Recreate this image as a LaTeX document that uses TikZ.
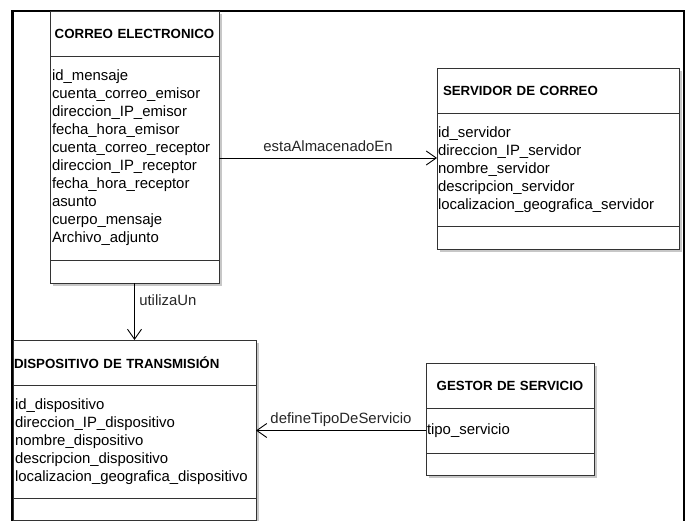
\documentclass[tikz,border=0pt]{standalone}
\usepackage{fontspec}
\setmainfont{Liberation Sans}
\usetikzlibrary{arrows.meta}
\usetikzlibrary{positioning, fit, calc}
\pgfdeclarelayer{background}
\pgfsetlayers{background,main}

\newcommand{\classtitlefont}{\bfseries\fontsize{13.3}{16}\selectfont}
\newcommand{\attrfont}{\fontsize{14.9}{18}\selectfont}

\tikzset{
  classbox/.style={draw=black!80, line width=0.9pt, fill=white, outer sep=0pt,
    inner ysep=0pt, anchor=north west},
  classhead/.style={classbox, minimum height=45pt, font=\classtitlefont},
  classattr/.style={classbox, align=left, inner xsep=2pt, font=\attrfont},
  classops/.style={classbox, minimum height=23pt},
  rolelabel/.style={font=\attrfont, text=black!85},
}

\begin{document}
\begin{tikzpicture}[x=1pt, y=-1pt, >={Straight Barb[length=10pt,width=14pt]}]
      \useasboundingbox (0,0) rectangle (690,521);

      % FRAME
      \draw[line width=2.5pt] (12.5,521) -- (12.5,11) -- (684,11) -- (684,521);

      % CORREO ELECTRONICO
      \node[classhead, text width=169pt, inner xsep=0pt, align=center] (correo-head) at (50,11)
      {CORREO ELECTRONICO};
      \node[classattr, text width=165pt, minimum height=204pt, below=0pt of correo-head] (correo-attr)
      {id\_mensaje\\cuenta\_correo\_emisor\\direccion\_IP\_emisor\\fecha\_hora\_emisor\\
       cuenta\_correo\_receptor\\direccion\_IP\_receptor\\fecha\_hora\_receptor\\asunto\\
       cuerpo\_mensaje\\Archivo\_adjunto};
      \node[classops, minimum width=169pt, below=0pt of correo-attr] (correo-ops) {};

      % SERVIDOR DE CORREO
      \node[classhead, text width=236pt, inner xsep=3pt, align=left] (servidor-head) at (437,68)
      {\hspace*{3pt}SERVIDOR DE CORREO};
      \node[classattr, text width=240pt, inner xsep=1pt, minimum height=113pt, below=0pt of servidor-head]
      (servidor-attr)
      {id\_servidor\\direccion\_IP\_servidor\\nombre\_servidor\\descripcion\_servidor\\
       localizacion\_geografica\_servidor};
      \node[classops, minimum width=242pt, below=0pt of servidor-attr] (servidor-ops) {};

      % DISPOSITIVO DE TRANSMISION
      \node[classhead, text width=241pt, inner xsep=1pt, align=left] (dispositivo-head) at (13,340)
      {DISPOSITIVO DE TRANSMISIÓN};
      \node[classattr, text width=239pt, minimum height=113pt, below=0pt of dispositivo-head]
      (dispositivo-attr)
      {id\_dispositivo\\direccion\_IP\_dispositivo\\nombre\_dispositivo\\descripcion\_dispositivo\\
       localizacion\_geografica\_dispositivo};
      \node[classops, minimum width=243pt, minimum height=22pt, below=0pt of dispositivo-attr]
      (dispositivo-ops) {};

      % GESTOR DE SERVICIO
      \node[classhead, text width=168pt, inner xsep=0pt, align=center] (gestor-head) at (426,363)
      {GESTOR DE SERVICIO};
      \node[classattr, text width=166pt, inner xsep=1pt, minimum height=45pt, below=0pt of gestor-head]
      (gestor-attr) {tipo\_servicio};
      \node[classops, minimum width=168pt, minimum height=22pt, below=0pt of gestor-attr] (gestor-ops) {};

      % SHADOWS
      \begin{pgfonlayer}{background}
        \foreach \c in {correo, servidor, dispositivo, gestor}
          \fill[black!22] ([shift={(3,3)}]\c-head.north west) rectangle ([shift={(3,3)}]\c-ops.south east);
      \end{pgfonlayer}

      % ASSOCIATIONS
      \draw[->, line width=0.9pt] (correo-attr.east) -- (correo-attr.east -| servidor-attr.west)
      node[rolelabel, midway, above=3pt] {estaAlmacenadoEn};
      \draw[->, line width=0.9pt] (correo-ops.south) -- (correo-ops.south |- dispositivo-head.north)
      node[rolelabel, pos=0.3, right=1pt] {utilizaUn};
      \draw[->, line width=0.9pt] (gestor-attr.west) -- (gestor-attr.west -| dispositivo-attr.east)
      node[rolelabel, midway, above] {defineTipoDeServicio};
    \end{tikzpicture}
\end{document}
